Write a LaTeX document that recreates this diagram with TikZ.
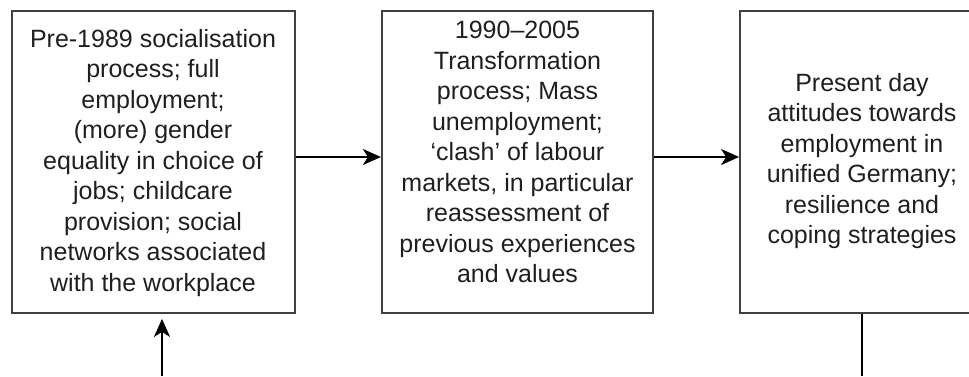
\documentclass[tikz,border=0pt]{standalone}
\usepackage{fontspec}
\setmainfont{Liberation Sans}
\usetikzlibrary{arrows.meta}
\begin{document}
\begin{tikzpicture}[x = 1pt, y = 1pt,
                    main node/.style = {draw = black!75, rectangle, line width = 1.8pt, inner sep = 0pt, minimum height = 302pt},
                    main text/.style = {align = center, text = black!88, font = \fontsize{25}{30.5}\selectfont},
                    link/.style = {-{Stealth[length = 18pt, width = 16pt, inset = 5pt]}, line width = 1.9pt}]
                    \useasboundingbox (0, 0) rectangle (969, 376);
                    \node at (153.4, 214) [main node, minimum width = 283pt] (box1) {};
                    \node at (517.3, 214) [main node, minimum width = 271pt] (box2) {};
                    \node at (862, 214) [main node, minimum width = 244pt] (box3) {};
                    \node at (153, 213) [main text] (text1) {Pre-1989 socialisation\\process; full\\employment;\\(more) gender\\equality in choice of\\jobs; childcare\\provision; social\\networks associated\\with the workplace};
                    \node at (517.5, 224) [main text] (text2) {1990--2005\\Transformation\\process; Mass\\unemployment;\\`clash' of labour\\markets, in particular\\reassessment of\\previous experiences\\and values};
                    \node at (862, 215) [main text] (text3) {Present day\\attitudes towards\\employment in\\unified Germany;\\resilience and\\coping strategies};
                    \coordinate (in1) at (162, 0);
                    \coordinate (out3) at (862, 0);

                    \draw [link] ([yshift = 5pt]box1.east) -- ([yshift = 5pt]box2.west);
                    \draw [link] ([yshift = 5pt]box2.east) -- ([yshift = 5pt]box3.west);
                    \draw [link, shorten >= 5pt] (in1) -- (in1 |- box1.south);
                    \draw [line width = 1.9pt] (box3.south) -- (out3);
                \end{tikzpicture}
\end{document}
